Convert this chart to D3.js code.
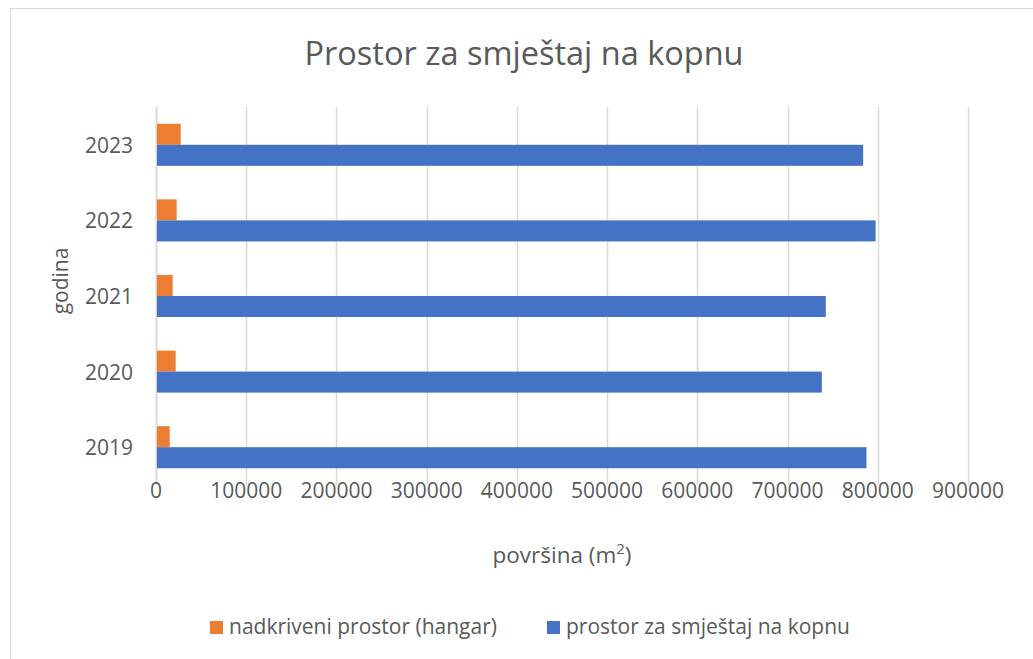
<!DOCTYPE html>
<html>
<head>
<meta charset="utf-8">
<script src="https://cdn.jsdelivr.net/npm/d3@7"></script>
<style>
  body { margin: 0; background: #fff; }
  text { font-family: "Open Sans", sans-serif; fill: #595959; }
</style>
</head>
<body>
<svg id="chart" width="1033" height="659"></svg>
<script>
// data
const years = ["2019", "2020", "2021", "2022", "2023"];
const hangar = [15200, 21800, 18500, 22900, 27400];
const kopno = [787500, 738000, 742400, 797600, 783800];
const seriesNames = ["nadkriveni prostor (hangar)", "prostor za smještaj na kopnu"];
const xTicks = [0, 100000, 200000, 300000, 400000, 500000, 600000, 700000, 800000, 900000];

const colors = ["#ED7D31", "#4472C4"];
const svg = d3.select("#chart");

// chart frame
svg.append("rect")
  .attr("x", 10.5).attr("y", 8.5)
  .attr("width", 1100).attr("height", 700)
  .attr("fill", "#fff").attr("stroke", "#d9d9d9");

const plot = { left: 156, right: 968, top: 107, bottom: 485 };

const x = d3.scaleLinear().domain([0, 900000]).range([plot.left, plot.right]);
const y = d3.scaleBand()
  .domain(years.slice().reverse())
  .range([plot.top, plot.bottom])
  .paddingInner(0.444).paddingOuter(0.222);
const ySub = d3.scaleBand().domain([0, 1]).range([0, y.bandwidth()]);

// gridlines
svg.append("g")
  .selectAll("line")
  .data(xTicks)
  .join("line")
  .attr("x1", d => Math.round(x(d)) + 0.5)
  .attr("x2", d => Math.round(x(d)) + 0.5)
  .attr("y1", plot.top).attr("y2", plot.bottom)
  .attr("stroke", "#d9d9d9").attr("stroke-width", d => d === 0 ? 2 : 1.5);

// bars
const rows = years.map((yr, i) => ({ yr, vals: [hangar[i], kopno[i]] }));
const grp = svg.append("g").selectAll("g")
  .data(rows)
  .join("g")
  .attr("transform", d => `translate(0,${y(d.yr)})`);
grp.selectAll("rect")
  .data(d => d.vals.map((v, k) => ({ v, k })))
  .join("rect")
  .attr("x", x(0) + 1)
  .attr("y", d => ySub(d.k))
  .attr("width", d => x(d.v) - x(0) - 1)
  .attr("height", ySub.bandwidth())
  .attr("fill", d => colors[d.k]);

// x tick labels
svg.append("g")
  .selectAll("text")
  .data(xTicks)
  .join("text")
  .attr("x", d => x(d))
  .attr("y", 498)
  .attr("text-anchor", "middle")
  .attr("font-size", 21)
  .text(d => d);

// y tick labels
svg.append("g")
  .selectAll("text")
  .data(years)
  .join("text")
  .attr("x", 133)
  .attr("y", d => y(d) + y.bandwidth() / 2 + 8)
  .attr("text-anchor", "end")
  .attr("font-size", 21)
  .text(d => d);

// title
svg.append("text")
  .attr("x", 524).attr("y", 65)
  .attr("text-anchor", "middle")
  .attr("font-size", 32.5)
  .text("Prostor za smještaj na kopnu");

// axis titles
svg.append("text")
  .attr("transform", "translate(68,281) rotate(-90)")
  .attr("text-anchor", "middle")
  .attr("font-size", 21)
  .text("godina");

const xt = svg.append("text")
  .attr("x", (plot.left + plot.right) / 2).attr("y", 563)
  .attr("text-anchor", "middle")
  .attr("font-size", 22.5);
xt.append("tspan").text("površina (m");
xt.append("tspan").attr("font-size", 15).attr("dy", -9).text("2");
xt.append("tspan").attr("dy", 9).text(")");

// legend
const legX = [210, 547];
const leg = svg.append("g").selectAll("g")
  .data(seriesNames)
  .join("g")
  .attr("transform", (d, i) => `translate(${legX[i]},621)`);
leg.append("rect")
  .attr("width", 13).attr("height", 13)
  .attr("fill", (d, i) => colors[i]);
leg.append("text")
  .attr("x", 19).attr("y", 13)
  .attr("font-size", 21)
  .text(d => d);
</script>
</body>
</html>
